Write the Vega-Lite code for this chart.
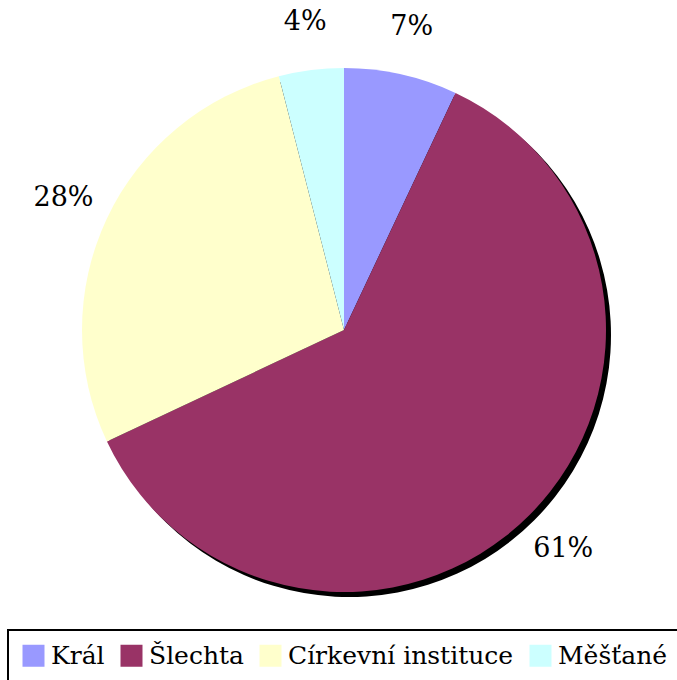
{
  "$schema": "https://vega.github.io/schema/vega-lite/v6.json",
  "width": 688,
  "height": 660,
  "autosize": {"type": "none"},
  "padding": {"left": 0, "top": 0, "right": 0, "bottom": 20},
  "background": "white",
  "data": {"values": [
    {"kategorie": "Král", "podil": 7, "poradi": 1, "stitek": "7%"},
    {"kategorie": "Šlechta", "podil": 61, "poradi": 2, "stitek": "61%"},
    {"kategorie": "Církevní instituce", "podil": 28, "poradi": 3, "stitek": "28%"},
    {"kategorie": "Měšťané", "podil": 4, "poradi": 4, "stitek": "4%"}
  ]},
  "encoding": {
    "theta": {"field": "podil", "type": "quantitative", "stack": true},
    "order": {"field": "poradi", "type": "quantitative"}
  },
  "layer": [
    {"mark": {"type": "arc", "outerRadius": 262, "xOffset": 5, "yOffset": 5, "color": "black"}},
    {"mark": {"type": "arc", "outerRadius": 262},
     "encoding": {"color": {"field": "kategorie", "type": "nominal",
        "scale": {"domain": ["Král", "Šlechta", "Církevní instituce", "Měšťané"], "range": ["#9999FF", "#993366", "#FFFFCC", "#CCFFFF"]},
        "legend": {"title": null, "labelFont": "DejaVu Serif", "labelFontSize": 25}}}},
    {"mark": {"type": "text", "radius": 310, "font": "DejaVu Serif", "fontSize": 27, "color": "black"},
     "encoding": {"text": {"field": "stitek", "type": "nominal"}}}
  ],
  "config": {
    "view": {"stroke": null},
    "legend": {
      "orient": "none", "legendX": 8, "legendY": 630, "direction": "horizontal",
      "symbolType": "square", "symbolSize": 484, "symbolStrokeWidth": 0, "symbolOpacity": 1,
      "labelColor": "black", "labelLimit": 400, "labelOffset": 5,
      "strokeColor": "black", "strokeWidth": 2, "padding": 13, "columnPadding": 14, "symbolOffset": 0
    }
  }
}
